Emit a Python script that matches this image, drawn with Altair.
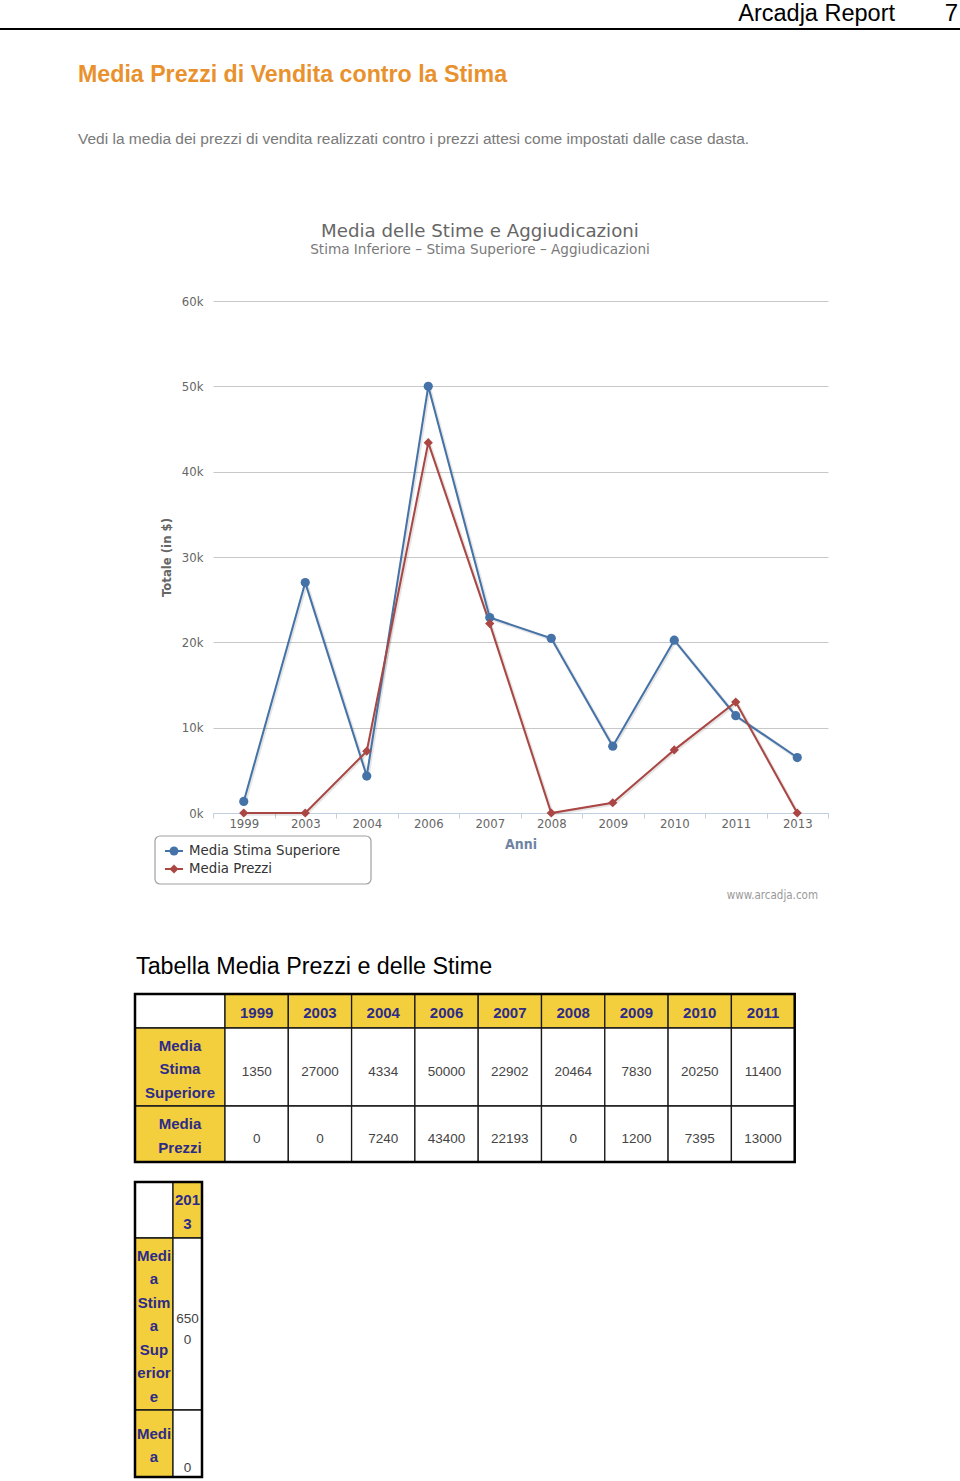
import altair as alt
import pandas as pd

# ---------------- data ----------------
years = ["1999", "2003", "2004", "2006", "2007", "2008", "2009", "2010", "2011", "2013"]
stima_superiore = [1350, 27000, 4334, 50000, 22902, 20464, 7830, 20250, 11400, 6500]
media_prezzi = [0, 0, 7240, 43400, 22193, 0, 1200, 7395, 13000, 0]
series_names = ["Media Stima Superiore", "Media Prezzi"]
y_ticks = [0, 10000, 20000, 30000, 40000, 50000, 60000]

# table 1 (first nine years) and table 2 (the year that wraps onto a narrow table)
t1_years = years[:9]
t1_row_labels = ["Media\nStima\nSuperiore", "Media\nPrezzi"]
t2_years_display = ["201\n3"]
t2_row_labels = ["Medi\na\nStim\na\nSup\nerior\ne", "Medi\na"]
t2_values_display = ["650\n0", "0"]

# ---------------- layout / style ----------------
OX, OY = 213, 301          # plot origin in page pixels
W, H = 615, 512
PAGE_W, PAGE_H = 960, 1481
BLUE, RED = "#4572A7", "#AA4643"
YELLOW = "#F3CF3E"
NAVY = "#2E2B88"
CF = "DejaVu Sans Condensed"
DF = "DejaVu Sans"
PF = "Liberation Sans"


def px(x):
    return x - OX


def py(y):
    return y - OY


def text_layer(txt, x, y, size, color, font=PF, weight="normal", align="left", angle=0, baseline="alphabetic"):
    df = pd.DataFrame({"t": [txt]})
    return alt.Chart(df).mark_text(
        font=font, fontSize=size, color=color, fontWeight=weight, align=align,
        baseline=baseline, angle=angle
    ).encode(text="t:N", x=alt.value(px(x)), y=alt.value(py(y)))


# ---------------- main line chart ----------------
long = pd.DataFrame({
    "year": years * 2,
    "value": stima_superiore + media_prezzi,
    "series": [series_names[0]] * len(years) + [series_names[1]] * len(years),
})

x_enc = alt.X(
    "year:O",
    bandPosition=0.5,
    scale=alt.Scale(type="band", domain=years, paddingInner=0, paddingOuter=0),
    axis=alt.Axis(
        title="Anni", tickBand="extent", tickSize=5, tickColor="#C0D0E0",
        domainColor="#C0D0E0", domainWidth=1, labelColor="#666666", labelFont=CF,
        labelFontSize=13, labelPadding=-1, labelAngle=0, titleFont=CF, titleFontSize=14,
        titleFontWeight="bold", titleColor="#6F84A3", titlePadding=7, grid=False,
    ),
)
y_enc = alt.Y(
    "value:Q",
    scale=alt.Scale(domain=[0, 60000], nice=False),
    axis=alt.Axis(
        values=y_ticks, labelExpr="datum.value / 1000 + 'k'", grid=True, gridColor="#C8C8C8",
        domain=False, ticks=False, labelPadding=10, labelColor="#666666", labelFont=CF,
        labelFontSize=13, title="Totale (in $)", titleFont=CF, titleFontSize=13,
        titleFontWeight="bold", titleColor="#666666", titleAngle=270, titleX=-47,
        titleY=H / 2, titleAlign="center", titleBaseline="middle",
    ),
)
color_scale = alt.Scale(domain=series_names, range=[BLUE, RED])
color_enc = alt.Color("series:N", scale=color_scale, legend=None)
shape_enc = alt.Shape("series:N", scale=alt.Scale(domain=series_names, range=["circle", "diamond"]), legend=None)

shadow = alt.Chart(long).mark_line(strokeWidth=3.5, color="black", opacity=0.1, xOffset=1, yOffset=1).encode(
    x=x_enc, y=y_enc, detail="series:N"
)
lines = alt.Chart(long).mark_line(strokeWidth=2).encode(x=x_enc, y=y_enc, color=color_enc, detail="series:N")
points = alt.Chart(long).mark_point(filled=True, size=85, opacity=1).encode(
    x=x_enc, y=y_enc, color=color_enc, shape=shape_enc
)
main = alt.layer(shadow, lines, points)

# ---------------- legend (drawn from the series names) ----------------
leg_df = pd.DataFrame({"series": series_names})
leg_y = alt.Y("series:N", scale=alt.Scale(type="point", domain=series_names, range=[py(851), py(869)], padding=0), axis=None)
leg_box = alt.Chart(pd.DataFrame({"a": [0]})).mark_rect(
    fill="white", stroke="#A0A0A0", strokeWidth=1.2, cornerRadius=5
).encode(x=alt.value(px(155)), x2=alt.value(px(371)), y=alt.value(py(836)), y2=alt.value(py(884)))
leg_line = alt.Chart(leg_df).mark_rule(strokeWidth=2).encode(
    x=alt.value(px(165)), x2=alt.value(px(183)), y=leg_y, color=color_enc
)
leg_pts = alt.Chart(leg_df).mark_point(filled=True, size=80, opacity=1).encode(
    x=alt.value(px(174)), y=leg_y, color=color_enc, shape=shape_enc
)
leg_txt = alt.Chart(leg_df).mark_text(
    font=CF, fontSize=14.8, color="#333333", align="left", baseline="middle"
).encode(x=alt.value(px(189)), y=leg_y, text="series:N")
legend_layer = alt.layer(leg_box, leg_line, leg_pts, leg_txt)


# ---------------- tables ----------------
def build_table(col_widths, row_heights, left, top, col_headers, row_headers, values,
                head_lh=23.5, data_lh=21, clip_bottom=None):
    xs = [0]
    for w in col_widths:
        xs.append(xs[-1] + w)
    ys = [0]
    for h in row_heights:
        ys.append(ys[-1] + h)
    vis_end = ys[-1] if clip_bottom is None else min(ys[-1], clip_bottom - top)
    cells, texts = [], []
    for r in range(len(row_heights)):
        y0, y1 = ys[r], ys[r + 1]
        vy1 = min(y1, vis_end)
        for c in range(len(col_widths)):
            if r == 0 and c == 0:
                kind, txt = "corner", ""
            elif r == 0:
                kind, txt = "head", col_headers[c - 1]
            elif c == 0:
                kind, txt = "head", row_headers[r - 1]
            else:
                kind, txt = "data", values[r - 1][c - 1]
            cells.append(dict(x0=xs[c], x1=xs[c + 1], y0=y0, y1=vy1, kind=kind))
            if txt != "":
                n = txt.count("\n") + 1
                lh = head_lh if kind == "head" else data_lh
                yc = (y0 + vy1) / 2 if kind == "head" else (y0 + y1) / 2
                texts.append(dict(xc=(xs[c] + xs[c + 1]) / 2, yc=yc - (n - 1) * lh / 2, t=txt, kind=kind))
    cdf = pd.DataFrame(cells)
    tdf = pd.DataFrame(texts)
    odf = pd.DataFrame([dict(x0=0, x1=xs[-1], y0=0, y1=vis_end)])
    xs_scale = alt.Scale(domain=[0, xs[-1]], range=[px(left), px(left) + xs[-1]])
    ys_scale = alt.Scale(domain=[0, vis_end], range=[py(top), py(top) + vis_end])
    X = lambda f: alt.X(f, type="quantitative", scale=xs_scale, axis=None)
    Y = lambda f: alt.Y(f, type="quantitative", scale=ys_scale, axis=None)
    rects = alt.Chart(cdf).mark_rect(stroke="#1A1A1A", strokeWidth=1.3).encode(
        x=X("x0"), x2="x1", y=Y("y0"), y2="y1",
        fill=alt.Fill("kind:N", scale=alt.Scale(domain=["corner", "head", "data"],
                                                 range=["white", YELLOW, "white"]), legend=None),
    )
    outer = alt.Chart(odf).mark_rect(fill=None, stroke="black", strokeWidth=2.5).encode(
        x=X("x0"), x2="x1", y=Y("y0"), y2="y1"
    )
    head_txt = alt.Chart(tdf).transform_filter("datum.kind == 'head'").mark_text(
        font=PF, fontSize=15, fontWeight="bold", color=NAVY, lineBreak="\n", lineHeight=head_lh,
        baseline="middle", align="center", dy=2
    ).encode(x=X("xc"), y=Y("yc"), text="t:N")
    data_txt = alt.Chart(tdf).transform_filter("datum.kind == 'data'").mark_text(
        font=PF, fontSize=13.5, color="#444444", lineBreak="\n", lineHeight=data_lh,
        baseline="middle", align="center", dy=5
    ).encode(x=X("xc"), y=Y("yc"), text="t:N")
    return alt.layer(rects, outer, head_txt, data_txt)


t1_values = [[str(v) for v in stima_superiore[:9]], [str(v) for v in media_prezzi[:9]]]
table1 = build_table([90] + [63.3] * 9, [34, 78, 56], 135, 994, t1_years, t1_row_labels, t1_values)
table2 = build_table([38, 29], [56, 172, 106], 135, 1182, t2_years_display, t2_row_labels,
                     [[t2_values_display[0]], [t2_values_display[1]]], clip_bottom=1477)

# ---------------- page texts ----------------
header_rule = alt.Chart(pd.DataFrame({"a": [0]})).mark_rule(color="black", strokeWidth=2).encode(
    x=alt.value(px(0)), x2=alt.value(px(PAGE_W)), y=alt.value(py(29))
)
texts = [
    text_layer("Arcadja Report", 895, 21, 23.5, "black", align="right"),
    text_layer("7", 958, 21, 24, "black", align="right"),
    text_layer("Media Prezzi di Vendita contro la Stima", 78, 82, 23.2, "#E8912D", weight="bold"),
    text_layer("Vedi la media dei prezzi di vendita realizzati contro i prezzi attesi come impostati dalle case dasta.",
               78, 144, 15.5, "#7A7A7A"),
    text_layer("Media delle Stime e Aggiudicazioni", 480, 237, 18.2, "#666666", font=DF, align="center"),
    text_layer("Stima Inferiore – Stima Superiore – Aggiudicazioni", 480, 254, 13.6, "#7A7A7A", font=DF, align="center"),
    text_layer("www.arcadja.com", 818, 899, 11.5, "#999999", font=CF, align="right"),
    text_layer("Tabella Media Prezzi e delle Stime", 136, 974, 23.3, "black"),
]

chart = alt.layer(main, legend_layer, table1, table2, header_rule, *texts).resolve_scale(
    x="independent", y="independent", fill="independent"
).properties(
    width=W, height=H,
    padding={"left": OX, "top": OY, "right": PAGE_W - OX - W, "bottom": PAGE_H - OY - H},
    autosize=alt.AutoSizeParams(type="none"),
    background="white",
).configure_view(stroke=None)

chart.save("out.html", embed_options={"renderer": "svg", "actions": False})
